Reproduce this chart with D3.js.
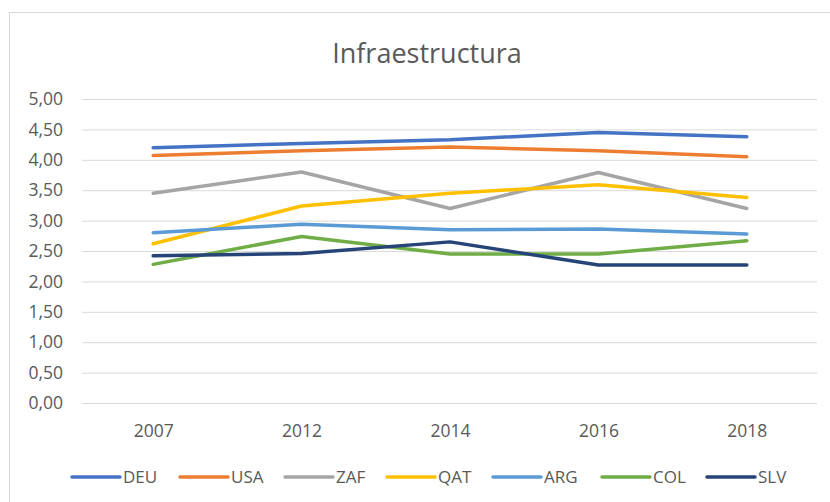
<!DOCTYPE html>
<html>
<head>
<meta charset="utf-8">
<script src="https://cdn.jsdelivr.net/npm/d3@7"></script>
<style>
  html, body { margin: 0; padding: 0; background: #fff; }
  svg { display: block; }
  text { font-family: "Open Sans", "Noto Sans", sans-serif; fill: #595959; }
</style>
</head>
<body>
<svg id="chart" width="830" height="502"></svg>
<script>
const title = "Infraestructura";
const years = ["2007", "2012", "2014", "2016", "2018"];
const seriesNames = ["DEU", "USA", "ZAF", "QAT", "ARG", "COL", "SLV"];
const seriesColors = ["#4472C4", "#ED7D31", "#A5A5A5", "#FFC000", "#5B9BD5", "#70AD47", "#264478"];
const DEU = [4.20, 4.27, 4.33, 4.45, 4.38];
const USA = [4.07, 4.15, 4.21, 4.15, 4.05];
const ZAF = [3.45, 3.80, 3.20, 3.79, 3.20];
const QAT = [2.62, 3.24, 3.45, 3.59, 3.38];
const ARG = [2.80, 2.94, 2.85, 2.86, 2.78];
const COL = [2.28, 2.74, 2.45, 2.45, 2.67];
const SLV = [2.42, 2.46, 2.65, 2.27, 2.27];
const seriesValues = [DEU, USA, ZAF, QAT, ARG, COL, SLV];
const yTicks = [0, 0.5, 1, 1.5, 2, 2.5, 3, 3.5, 4, 4.5, 5];

const svg = d3.select("#chart");
const fmt = v => d3.format(".2f")(v).replace(".", ",");

// chart frame (only left/top visible)
svg.append("rect").attr("x", 9.5).attr("y", 12.5).attr("width", 840).attr("height", 520)
  .attr("fill", "#fff").attr("stroke", "#d9d9d9").attr("stroke-width", 1);

const x = d3.scalePoint().domain(years).range([79, 821]).padding(0.5);
const y = d3.scaleLinear().domain([0, 5]).range([403, 99]);

// gridlines + y labels
const yAxis = d3.axisLeft(y).tickValues(yTicks).tickFormat(fmt).tickSize(-(817 - 82)).tickPadding(19);
const gy = svg.append("g").attr("transform", "translate(82,0)").call(yAxis);
gy.select(".domain").remove();
gy.selectAll(".tick line").attr("stroke", "#d9d9d9").attr("stroke-width", 1);
gy.selectAll(".tick text").style("font-size", "17.5px").attr("fill", "#595959");

// x labels
const xAxis = d3.axisBottom(x).tickSize(0).tickPadding(22);
const gx = svg.append("g").attr("transform", "translate(0,403)").call(xAxis);
gx.select(".domain").remove();
gx.selectAll(".tick text").style("font-size", "17.5px").attr("fill", "#595959");

// lines
const line = d3.line().x((d, i) => x(years[i])).y(d => y(d));
seriesValues.forEach((vals, k) => {
  svg.append("path").datum(vals).attr("d", line)
    .attr("fill", "none").attr("stroke", seriesColors[k])
    .attr("stroke-width", 3.5).attr("stroke-linejoin", "round").attr("stroke-linecap", "round");
});

// title
svg.append("text").attr("x", 427).attr("y", 63).attr("text-anchor", "middle")
  .style("font-size", "27px").text(title);

// legend
const legendStarts = [72, 180, 285, 387, 493, 602, 707];
const lg = svg.append("g");
seriesNames.forEach((name, k) => {
  const g = lg.append("g").attr("transform", `translate(${legendStarts[k]},477)`);
  g.append("line").attr("x1", 0).attr("x2", 48).attr("y1", 0).attr("y2", 0)
    .attr("stroke", seriesColors[k]).attr("stroke-width", 3.5).attr("stroke-linecap", "round");
  g.append("text").attr("x", 51).attr("y", 6).style("font-size", "17px").text(name);
});
</script>
</body>
</html>
